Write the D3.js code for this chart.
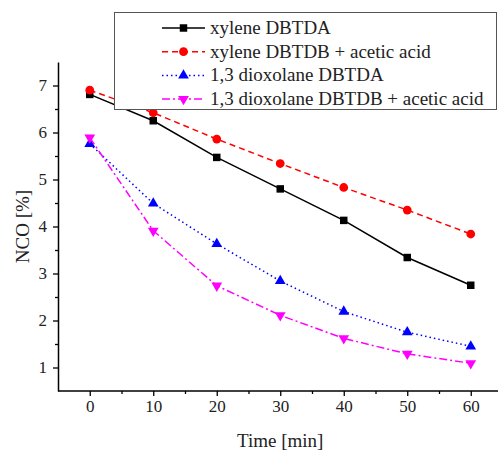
<!DOCTYPE html>
<html>
<head>
<meta charset="utf-8">
<script src="https://cdn.jsdelivr.net/npm/d3@7"></script>
<style>
  body { margin: 0; background: #fff; }
  svg, svg text { font-family: "Liberation Serif", "Times New Roman", Times, serif !important; }
</style>
</head>
<body>
<div id="chart"></div>
<script>
// data
var times = [0, 10, 20, 30, 40, 50, 60];
var xyleneDBTDA = [6.81, 6.25, 5.47, 4.80, 4.13, 3.34, 2.75];
var xyleneDBTDBAcid = [6.90, 6.42, 5.86, 5.34, 4.83, 4.35, 3.84];
var dioxolaneDBTDA = [5.76, 4.49, 3.63, 2.84, 2.19, 1.75, 1.45];
var dioxolaneDBTDBAcid = [5.89, 3.91, 2.74, 2.11, 1.62, 1.29, 1.09];
var seriesNames = ["xylene DBTDA", "xylene DBTDB + acetic acid", "1,3 dioxolane DBTDA", "1,3 dioxolane DBTDB + acetic acid"];
var xTicks = [0, 10, 20, 30, 40, 50, 60];
var yTicks = [1, 2, 3, 4, 5, 6, 7];

var series = [
    {name: seriesNames[0], values: xyleneDBTDA, color: "#000000", dash: null, symbol: d3.symbolSquare, size: 56, rot: 0},
    {name: seriesNames[1], values: xyleneDBTDBAcid, color: "#ff0000", dash: "6,4", symbol: d3.symbolCircle, size: 60, rot: 0},
    {name: seriesNames[2], values: dioxolaneDBTDA, color: "#0000ff", dash: "1.5,3", symbol: d3.symbolTriangle, size: 50, rot: 0},
    {name: seriesNames[3], values: dioxolaneDBTDBAcid, color: "#ff00ff", dash: "8,3,2,3", symbol: d3.symbolTriangle, size: 50, rot: 180}
];

var W = 498, H = 452;
var margin = {top: 62, right: 0, bottom: 61, left: 58}
    , width = W - margin.left - margin.right
    , height = H - margin.top - margin.bottom;

var svg = d3.select("#chart").append("svg")
    .attr("width", W)
    .attr("height", H);

var g = svg.append("g")
    .attr("transform", "translate(" + margin.left + "," + margin.top + ")");

// x goes a bit past the right edge, like the original
var xScale = d3.scaleLinear().domain([-5, 65]).range([0, 444.5]);
var yScale = d3.scaleLinear().domain([0.5, 7.5]).range([height, 0]);

// minor ticks first
g.append("g")
    .attr("transform", "translate(0," + height + ")")
    .call(d3.axisBottom(xScale).tickValues(d3.range(5, 65, 10)).tickSize(3).tickFormat(""))
    .call(function(a){ a.select(".domain").remove(); a.selectAll("line").attr("stroke-width", 1.3); });
g.append("g")
    .call(d3.axisLeft(yScale).tickValues(d3.range(1.5, 7.5, 1)).tickSize(3).tickFormat(""))
    .call(function(a){ a.select(".domain").remove(); a.selectAll("line").attr("stroke-width", 1.3); });

var xAxis = g.append("g")
    .attr("transform", "translate(0," + height + ")")
    .call(d3.axisBottom(xScale).tickValues(xTicks).tickFormat(d3.format("d")).tickSize(5).tickSizeOuter(0).tickPadding(4));
var yAxis = g.append("g")
    .call(d3.axisLeft(yScale).tickValues(yTicks).tickFormat(d3.format("d")).tickSize(5).tickSizeOuter(0).tickPadding(6));

[xAxis, yAxis].forEach(function(a){
    a.attr("font-family", null);
    a.select(".domain").attr("stroke-width", 1.5);
    a.selectAll("line").attr("stroke-width", 1.3);
    a.selectAll("text").attr("font-size", 17).attr("fill", "#222");
});
// extend the x axis line to the picture edge
xAxis.select(".domain").attr("d", "M0,0H" + (W - margin.left));

// axis titles
svg.append("text")
    .attr("text-anchor", "middle")
    .attr("x", margin.left + xScale(30))
    .attr("y", 447)
    .attr("font-size", 19)
    .attr("fill", "#222")
    .text("Time [min]");

svg.append("text")
    .attr("text-anchor", "middle")
    .attr("transform", "translate(29," + (margin.top + yScale(4)) + ") rotate(-90)")
    .attr("font-size", 19)
    .attr("fill", "#222")
    .text("NCO [%]");

var line = d3.line()
    .x(function(d, i){ return xScale(times[i]); })
    .y(function(d){ return yScale(d); })
    .curve(d3.curveLinear);

series.forEach(function(s){
    g.append("path")
        .datum(s.values)
        .attr("d", line)
        .attr("fill", "none")
        .attr("stroke", s.color)
        .attr("stroke-width", 1.5)
        .attr("stroke-dasharray", s.dash);
    g.selectAll(null)
        .data(s.values)
        .enter().append("path")
        .attr("d", d3.symbol().type(s.symbol).size(s.size))
        .attr("fill", s.color)
        .attr("transform", function(d, i){
            return "translate(" + xScale(times[i]) + "," + yScale(d) + ") rotate(" + s.rot + ")";
        });
});

// legend
var legend = svg.append("g");
legend.append("rect")
    .attr("x", 114.5)
    .attr("y", 12.5)
    .attr("width", 382)
    .attr("height", 97)
    .attr("fill", "#fff")
    .attr("stroke", "#555")
    .attr("stroke-width", 1);

series.forEach(function(s, i){
    var y = 28 + i * 23.7;
    var row = legend.append("g");
    row.append("line")
        .attr("x1", 162).attr("x2", 205)
        .attr("y1", y).attr("y2", y)
        .attr("stroke", s.color)
        .attr("stroke-width", 1.5)
        .attr("stroke-dasharray", s.dash);
    row.append("path")
        .attr("d", d3.symbol().type(s.symbol).size(s.size))
        .attr("fill", s.color)
        .attr("transform", "translate(183.5," + y + ") rotate(" + s.rot + ")");
    row.append("text")
        .attr("x", 210)
        .attr("y", y + 6)
        .attr("font-size", 19)
        .attr("fill", "#222")
        .text(s.name);
});
</script>
</body>
</html>
